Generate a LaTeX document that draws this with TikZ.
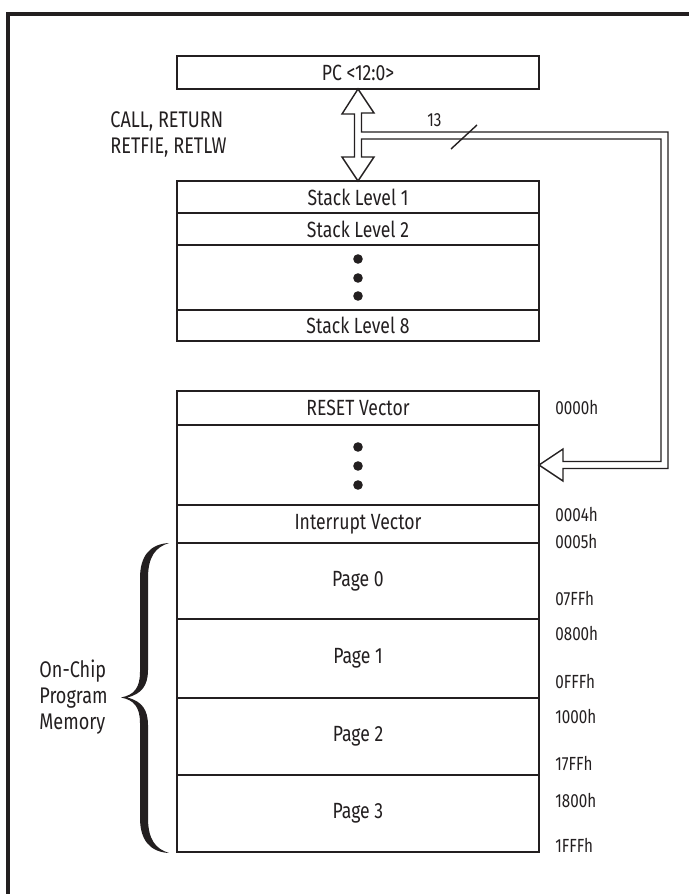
\documentclass[tikz,border=0pt]{standalone}
\usepackage{fontspec}
\setmainfont{Fira Sans}[FakeStretch=0.8]
\usepackage{xcolor}
\usepackage{tikz}
\usetikzlibrary{positioning, calc}
\definecolor{ink}{HTML}{231F20}

\begin{document}
\begin{tikzpicture}[
  x=0.5pt, y=0.5pt,
  every node/.style={text=ink},
  box/.style={draw=ink, line width=1.4pt, outer sep=0pt, inner sep=0pt,
    minimum width=181pt, font=\fontsize{11}{13}\selectfont},
  addr/.style={anchor=west, inner sep=0pt, font=\fontsize{9.5}{11}\selectfont},
  lbl/.style={align=left, anchor=west, inner sep=0pt, font=\fontsize{11.3}{12.8}\selectfont},
  pipe/.style={draw=ink, line width=0.7pt, fill=white, line join=miter},
  frame/.style={draw=ink, line width=2pt},
  dot/.style={fill=ink}
]
\fill[white] (0,0) rectangle (689,-894);
\useasboundingbox (0,0) rectangle (689,-894);
\draw[frame] (8,-900) -- (8,-14) -- (695,-14);

\node[box, minimum height=16.5pt] (PC) at (358,-72.5) {PC <12:0>};

\node[box, minimum height=16pt] (S1) at (358,-197) {Stack Level 1};
\node[box, minimum height=16pt, below=0pt of S1] (S2) {Stack Level 2};
\node[box, minimum height=32.5pt, below=0pt of S2] (SD) {};
\node[box, minimum height=15.5pt, below=0pt of SD] (S8) {Stack Level 8};

\node[box, minimum height=17pt] (RST) at (358,-408) {RESET Vector};
\node[box, minimum height=40pt, below=0pt of RST] (MD) {};
\node[box, minimum height=19pt, below=0pt of MD] (INT) {Interrupt Vector};
\node[box, minimum height=38pt, below=0pt of INT] (P0) {Page 0};
\node[box, minimum height=39.5pt, below=0pt of P0] (P1) {Page 1};
\node[box, minimum height=38.5pt, below=0pt of P1] (P2) {Page 2};
\node[box, minimum height=38.5pt, below=0pt of P2] (P3) {Page 3};

\foreach \d in {18.5,-0.5,-18.5} \fill[dot] ($(SD.center)+(0,\d)$) circle (4.8);
\foreach \d in {18,-1,-20} \fill[dot] ($(MD.center)+(0,\d)$) circle (4.8);

\coordinate (busR) at (668,-132);
\draw[pipe] (PC.south) -- ++(16,-24) -- ++(-12.5,0) |- (busR)
  -- ($(MD.east)+(129,-3.5)$) -- ++(-105,0) -- ++(0,-12.5) -- (MD.east)
  -- ++(24,16) -- ++(0,-12.5) -- ++(98,0) |- ($(S1.north)+(3.5,42)$)
  -- ++(0,-18) -- ++(12.5,0) -- (S1.north) -- ++(-16,24) -- ++(12.5,0)
  -- ++(0,43) -- ++(-12.5,0) -- cycle;
\draw[draw=ink, line width=0.7pt] (451,-149) -- (477,-125);
\node[addr] (bw) at (427,-120) {13};

\node[lbl] (ops) at (110,-134.5) {CALL, RETURN\\RETFIE, RETLW};
\node[lbl] (ocpm) at (39,-697) {On-Chip\\Program\\Memory};

\fill[ink] (169,-543) .. controls (150,-544) and (140,-556) .. (140,-578)
  -- (140,-672) .. controls (140,-688) and (134,-695) .. (121,-697.5)
  .. controls (134,-700) and (140,-707) .. (140,-723)
  -- (140,-818) .. controls (140,-840) and (150,-852) .. (169,-853)
  .. controls (156,-849) and (148,-840) .. (148,-818)
  -- (148,-725) .. controls (148,-710) and (142,-701) .. (127,-697.5)
  .. controls (142,-694) and (148,-685) .. (148,-670)
  -- (148,-578) .. controls (148,-556) and (156,-547) .. (169,-543) -- cycle;

\node[addr] (a0000) at (555,-408) {0000h};
\node[addr] (a0004) at (555,-515) {0004h};
\node[addr] (a0005) at (555,-542) {0005h};
\node[addr] (a07FF) at (555,-598) {07FFh};
\node[addr] (a0800) at (555,-633) {0800h};
\node[addr] (a0FFF) at (555,-681) {0FFFh};
\node[addr] (a1000) at (555,-716) {1000h};
\node[addr] (a17FF) at (555,-763) {17FFh};
\node[addr] (a1800) at (555,-800) {1800h};
\node[addr] (a1FFF) at (555,-845) {1FFFh};
\end{tikzpicture}
\end{document}
